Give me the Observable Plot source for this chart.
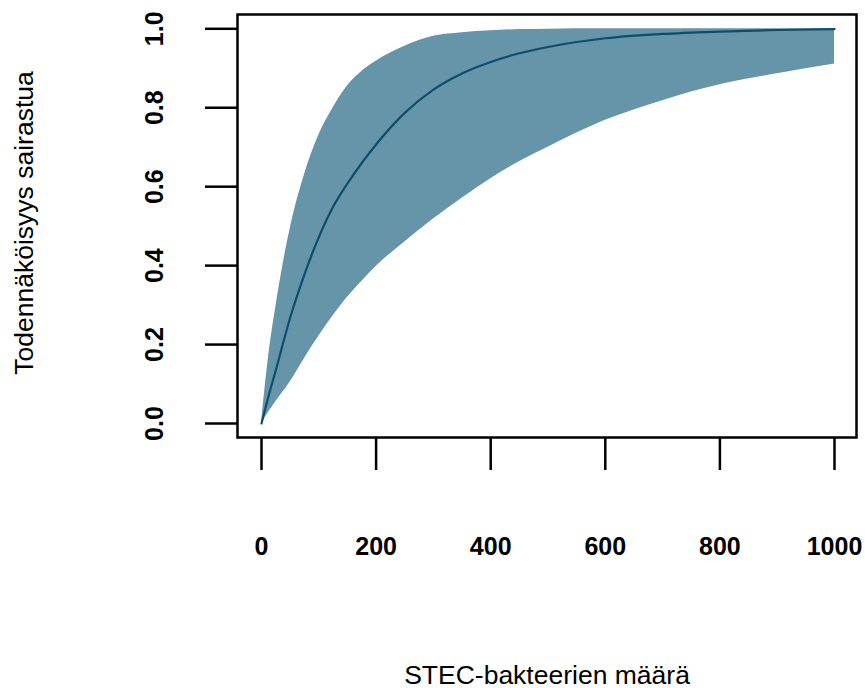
<!DOCTYPE html>
<html>
<head>
<meta charset="utf-8">
<script src="https://cdn.jsdelivr.net/npm/d3@7"></script>
<script src="https://cdn.jsdelivr.net/npm/@observablehq/plot@0.6"></script>
<style>
  html, body { margin: 0; padding: 0; background: #ffffff; }
  #chart svg { display: block; }
</style>
</head>
<body>
<div id="chart"></div>
<script>
// Dose (number of STEC bacteria)
const doses  = [0, 12, 25, 50, 75, 100, 125, 150, 175, 200, 250, 300, 350, 400, 450, 500, 600, 700, 800, 900, 1000];
// Median probability of illness
const median = [0, 0.068, 0.135, 0.268, 0.378, 0.472, 0.549, 0.608, 0.660, 0.707, 0.787, 0.846, 0.887, 0.916, 0.938, 0.954, 0.976, 0.987, 0.993, 0.997, 0.999];
// Upper bound of the uncertainty band
const upper  = [0, 0.165, 0.295, 0.493, 0.630, 0.730, 0.800, 0.855, 0.892, 0.918, 0.956, 0.981, 0.990, 0.995, 0.998, 0.999, 1.0, 1.0, 1.0, 1.0, 1.0];
// Lower bound of the uncertainty band
const lower  = [0, 0.028, 0.055, 0.105, 0.165, 0.221, 0.273, 0.320, 0.360, 0.398, 0.460, 0.518, 0.571, 0.620, 0.663, 0.700, 0.768, 0.818, 0.858, 0.886, 0.911];

const xTicks = [0, 200, 400, 600, 800, 1000];
const yTicks = [0, 0.2, 0.4, 0.6, 0.8, 1.0];
const xTitle = "STEC-bakteerien määrä";
const yTitle = "Todennäköisyys sairastua";

const data = doses.map((d, i) => ({dose: d, median: median[i], upper: upper[i], lower: lower[i]}));

const font = "'Liberation Sans', Arial, sans-serif";

const chart = Plot.plot({
  width: 865,
  height: 688,
  marginLeft: 237,
  marginRight: 9,
  marginTop: 14,
  marginBottom: 251,
  style: {fontFamily: font, background: "#ffffff", color: "#000000"},
  x: {domain: [0, 1000], range: [261, 834], axis: null},
  y: {domain: [0, 1], range: [423, 28.3], axis: null},
  marks: [
    Plot.areaY(data, {x: "dose", y1: "lower", y2: "upper", fill: "#6694a9", fillOpacity: 1, curve: "monotone-x"}),
    Plot.line(data, {x: "dose", y: "median", stroke: "#0b4f6d", strokeWidth: 2.2, curve: "monotone-x"}),
    Plot.frame({stroke: "#000000", strokeWidth: 2.5}),
    Plot.axisX(xTicks, {
      anchor: "bottom", tickSize: 33, tickPadding: 67, strokeWidth: 2.5,
      fontSize: 25, fontWeight: "bold", tickFormat: d => String(d), label: null
    }),
    Plot.axisY(yTicks, {
      anchor: "left", tickSize: 32, tickPadding: 43, tickRotate: -90, strokeWidth: 2.5,
      fontSize: 25, fontWeight: "bold", tickFormat: d3.format(".1f"), label: null
    }),
    Plot.text([xTitle], {
      text: d => d, frameAnchor: "bottom", dy: 246, lineAnchor: "bottom", textAnchor: "middle",
      fontSize: 26.5, fill: "#000000"
    }),
    Plot.text([yTitle], {
      text: d => d, frameAnchor: "left", dx: -205, dy: -3, rotate: -90, lineAnchor: "bottom", textAnchor: "middle",
      fontSize: 26.5, fill: "#000000"
    })
  ]
});

document.getElementById("chart").appendChild(chart);
</script>
</body>
</html>
